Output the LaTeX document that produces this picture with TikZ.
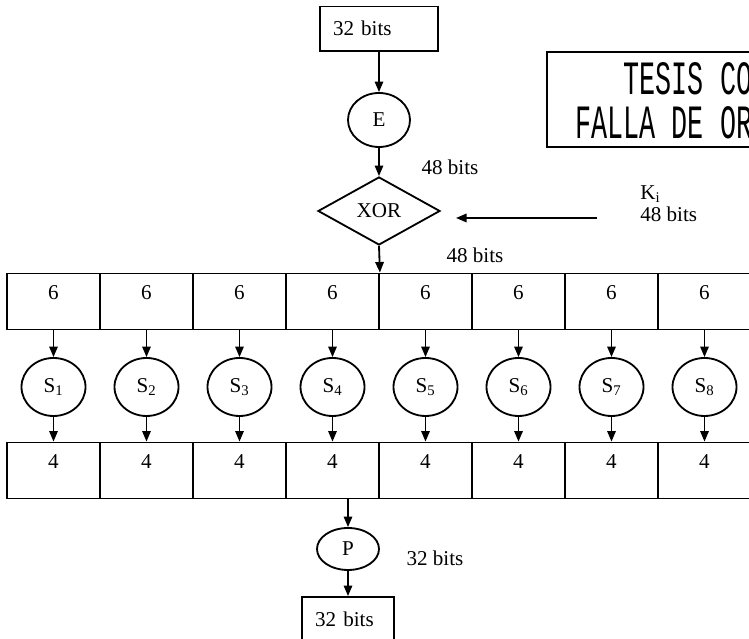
\documentclass[tikz,border=0pt]{standalone}
\usepackage{fontspec}
\setmainfont{Liberation Serif}
\newfontfamily\stampfont[FakeStretch=0.56]{Liberation Mono}
\usetikzlibrary{shapes.geometric, arrows.meta, positioning}

\begin{document}
\begin{tikzpicture}[
  bitsbox/.style={draw, line width=1.3pt, align=left, inner xsep=0.33cm, inner ysep=0, minimum height=1.1cm, font=\fontsize{15}{17}\selectfont},
  cell/.style={draw, line width=1.3pt, minimum width=2.325cm, inner sep=0, text height=0.65cm, text depth=0.75cm, font=\fontsize{15}{17}\selectfont},
  sbox/.style={draw, ellipse, line width=1.3pt, minimum width=1.6cm, minimum height=1.45cm, inner sep=0, font=\fontsize{15}{17}\selectfont},
  op/.style={draw, ellipse, line width=1.3pt, inner sep=0, font=\fontsize{15}{17}\selectfont},
  gate/.style={draw, diamond, line width=1.3pt, inner sep=0, minimum width=3.05cm, minimum height=1.7cm, font=\fontsize{15}{17}\selectfont},
  tag/.style={inner sep=0, align=left, font=\fontsize{15}{15.6}\selectfont},
  stamptext/.style={inner sep=0, anchor=base, font=\stampfont\fontsize{34}{34}\selectfont},
  arr/.style={-{Triangle[length=7.5pt,width=6pt]}, line width=1.3pt}
]
\useasboundingbox (0,0) rectangle (18.725,15.975);
% stamp
\draw[line width=1.3pt] (13.675,12.3) rectangle (19.2,14.675);
\node[stamptext] (stampa) at (17.4,13.62) {TESIS CON};
\node[stamptext] (stampb) at (17.4,12.5) {FALLA DE ORIGEN};
% expansion and key mixing
\node[bitsbox, text width=2.3cm] (top) at (9.475,15.26) {32 bits};
\node[op, minimum width=1.55cm, minimum height=1.35cm] (e) at (9.475,12.975) {E};
\node[tag] (b48a) at (11.25,11.8) {48 bits};
\node[gate] (xor) at (9.475,10.7) {XOR};
\node[tag, anchor=west] (ki) at (16.0,10.875) {K\textsubscript{i}\\48 bits};
\coordinate (kin) at (14.925,10.525);
\coordinate (kout) at (11.4,10.525);
\node[tag] (b48b) at (11.875,9.6) {48 bits};
% 6-bit blocks
\node[cell] (c1) at (1.3375,8.4375) {6};
\node[cell] (c2) at (3.6625,8.4375) {6};
\node[cell] (c3) at (5.9875,8.4375) {6};
\node[cell] (c4) at (8.3125,8.4375) {6};
\node[cell] (c5) at (10.6375,8.4375) {6};
\node[cell] (c6) at (12.9625,8.4375) {6};
\node[cell] (c7) at (15.2875,8.4375) {6};
\node[cell] (c8) at (17.6125,8.4375) {6};
% S-boxes
\node[sbox] (s1) at (1.3375,6.3) {S\textsubscript{1}};
\node[sbox] (s2) at (3.6625,6.3) {S\textsubscript{2}};
\node[sbox] (s3) at (5.9875,6.3) {S\textsubscript{3}};
\node[sbox] (s4) at (8.3125,6.3) {S\textsubscript{4}};
\node[sbox] (s5) at (10.6375,6.3) {S\textsubscript{5}};
\node[sbox] (s6) at (12.9625,6.3) {S\textsubscript{6}};
\node[sbox] (s7) at (15.2875,6.3) {S\textsubscript{7}};
\node[sbox] (s8) at (17.6125,6.3) {S\textsubscript{8}};
% 4-bit blocks
\node[cell] (d1) at (1.3375,4.2125) {4};
\node[cell] (d2) at (3.6625,4.2125) {4};
\node[cell] (d3) at (5.9875,4.2125) {4};
\node[cell] (d4) at (8.3125,4.2125) {4};
\node[cell] (d5) at (10.6375,4.2125) {4};
\node[cell] (d6) at (12.9625,4.2125) {4};
\node[cell] (d7) at (15.2875,4.2125) {4};
\node[cell] (d8) at (17.6125,4.2125) {4};
% permutation
\node[op, minimum width=1.55cm, minimum height=1.05cm] (p) at (8.7,2.25) {P};
\node[tag] (b32) at (10.875,2.025) {32 bits};
\node[bitsbox, text width=1.64cm] (out) at (8.7,0.5) {32 bits};
\draw[arr] (top.south) -- (e.north);
\draw[arr] (e.south) -- (xor.north);
\draw[arr] (kin) -- (kout);
\draw[arr] (xor.south) -- (c4.north east);
\draw[arr] (c1.south) -- (s1.north);
\draw[arr] (c2.south) -- (s2.north);
\draw[arr] (c3.south) -- (s3.north);
\draw[arr] (c4.south) -- (s4.north);
\draw[arr] (c5.south) -- (s5.north);
\draw[arr] (c6.south) -- (s6.north);
\draw[arr] (c7.south) -- (s7.north);
\draw[arr] (c8.south) -- (s8.north);
\draw[arr] (s1.south) -- (d1.north);
\draw[arr] (s2.south) -- (d2.north);
\draw[arr] (s3.south) -- (d3.north);
\draw[arr] (s4.south) -- (d4.north);
\draw[arr] (s5.south) -- (d5.north);
\draw[arr] (s6.south) -- (d6.north);
\draw[arr] (s7.south) -- (d7.north);
\draw[arr] (s8.south) -- (d8.north);
\draw[arr] (d4.south -| p.north) -- (p.north);
\draw[arr] (p.south) -- (out.north);
\end{tikzpicture}
\end{document}
